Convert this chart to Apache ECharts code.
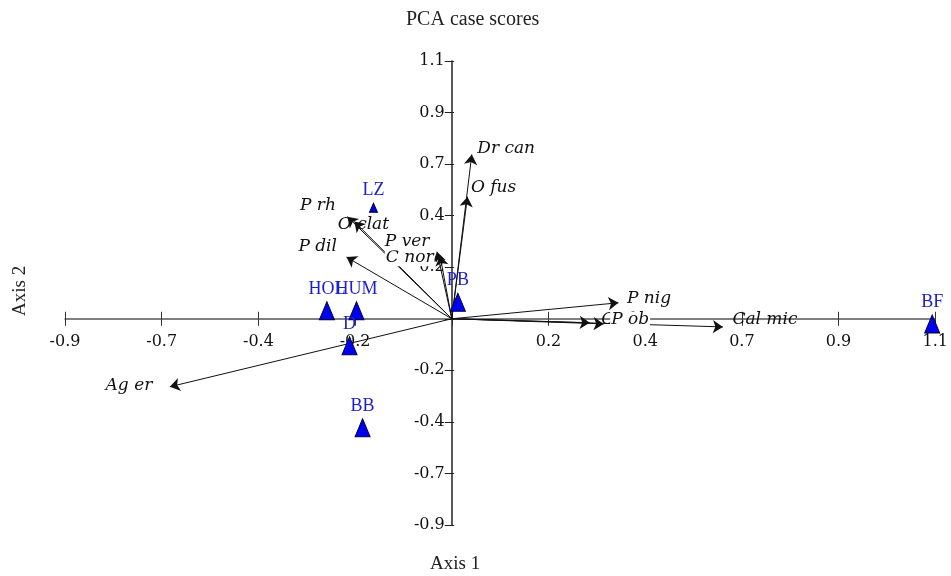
<!DOCTYPE html>
<html>
<head>
<meta charset="utf-8">
<title>PCA case scores</title>
<script src="https://cdn.jsdelivr.net/npm/echarts@6/dist/echarts.min.js"></script>
<style>
  html, body { margin: 0; padding: 0; background: #fff; }
  #chart { width: 951px; height: 576px; }
</style>
</head>
<body>
<div id="chart"></div>
<script>
// tick step of the original plot (labels are rounded to one decimal)
var step = 2 / 9

// case scores (sites)
var siteNames = ['LZ', 'HOL', 'HUM', 'D', 'BB', 'PB', 'BF']
var siteX = [-0.180, -0.287, -0.219, -0.235, -0.205, 0.014, 1.104]
var siteY = [0.479, 0.035, 0.035, -0.116, -0.470, 0.071, -0.022]

// species vectors
var vecNames = ['Dr can', 'O fus', 'P rh', 'O clat', 'P dil', 'C nor', 'P ver', 'P nig', 'C ob', 'P ob', 'Cal mic', 'Ag er']
var vecX = [0.046, 0.036, -0.240, -0.224, -0.242, -0.027, -0.034, 0.383, 0.317, 0.349, 0.623, -0.648]
var vecY = [0.708, 0.526, 0.440, 0.419, 0.266, 0.272, 0.289, 0.069, -0.017, -0.022, -0.035, -0.293]

// where each vector name sits next to its arrow head
var vecLabelPlace = {
  'Dr can': ['right', [0, -6]],
  'O fus': ['right', [-2, -9]],
  'P rh': ['left', [-6, -11]],
  'O clat': ['right', [-22, 3]],
  'P dil': ['left', [-4, -10]],
  'C nor': ['left', [-1, 2]],
  'P ver': ['left', [-2, -10]],
  'P nig': ['right', [3, -4]],
  'C ob': ['right', [6, -3]],
  'P ob': ['right', [2, -4]],
  'Cal mic': ['right', [4, -7]],
  'Ag er': ['left', [-12, -1]]
}
// names drawn on a white box that hides what lies below
var vecLabelOpaque = ['C nor', 'P ver', 'P ob']

var serif = 'Liberation Serif'
var wideSerif = 'DejaVu Serif'
var gridBox = { left: 65, right: 11, top: 61, bottom: 51 }

function tickLabel(v) {
  if (Math.abs(v) < 1e-9) return ''
  return v.toFixed(1)
}

var chart = echarts.init(document.getElementById('chart'))

var axisBase = {
  type: 'value',
  min: -4 * step,
  max: 5 * step,
  interval: step,
  splitLine: { show: false }
}

var option = {
  backgroundColor: '#fff',
  animation: false,
  title: {
    text: 'PCA case scores',
    left: 401,
    top: 5,
    textStyle: { fontFamily: serif, fontSize: 20, fontWeight: 'normal', color: '#222' }
  },
  grid: gridBox,
  xAxis: [
    Object.assign({}, axisBase, {
      position: 'bottom',
      axisLine: { onZero: false, lineStyle: { color: '#555', width: 1.5 } },
      axisTick: { length: 7, lineStyle: { color: '#333' } },
      axisLabel: { formatter: tickLabel, margin: 15, fontFamily: wideSerif, fontSize: 16, color: '#111', showMinLabel: true, showMaxLabel: true }
    }),
    Object.assign({}, axisBase, {
      position: 'top',
      axisLine: { show: false, onZero: false },
      axisTick: { length: 7, lineStyle: { color: '#333' } },
      axisLabel: { show: false }
    })
  ],
  yAxis: [
    Object.assign({}, axisBase, {
      position: 'left',
      axisLine: { onZero: false, lineStyle: { color: '#222', width: 1.5 } },
      axisTick: { length: 7, lineStyle: { color: '#222' } },
      axisLabel: { formatter: tickLabel, margin: 7, fontFamily: wideSerif, fontSize: 16, color: '#111', showMinLabel: true, showMaxLabel: true }
    }),
    Object.assign({}, axisBase, {
      position: 'right',
      axisLine: { show: false, onZero: false },
      axisTick: { length: 7, lineStyle: { color: '#222' } },
      axisLabel: { show: false }
    })
  ],
  graphic: [
    {
      type: 'text',
      left: 430,
      top: 555,
      style: { text: 'Axis 1', fontFamily: serif, fontSize: 19, fill: '#222' }
    },
    {
      type: 'text',
      x: 11,
      y: 316,
      rotation: Math.PI / 2,
      style: { text: 'Axis 2', fontFamily: serif, fontSize: 19, fill: '#222' }
    }
  ],
  series: [
    {
      type: 'lines',
      coordinateSystem: 'cartesian2d',
      xAxisIndex: 0,
      yAxisIndex: 0,
      symbol: ['none', 'arrow'],
      symbolSize: [7, 10],
      lineStyle: { color: '#111', width: 1, opacity: 1, curveness: 0 },
      z: 3,
      data: vecNames.map(function (n, i) {
        return { name: n, coords: [[0, 0], [vecX[i], vecY[i]]] }
      })
    },
    {
      type: 'scatter',
      xAxisIndex: 0,
      yAxisIndex: 0,
      symbolSize: 1,
      itemStyle: { color: 'rgba(0,0,0,0)', opacity: 1 },
      z: 4,
      data: vecNames.map(function (n, i) {
        var p = vecLabelPlace[n]
        var opaque = vecLabelOpaque.indexOf(n) >= 0
        return {
          name: n,
          value: [vecX[i], vecY[i]],
          label: {
            show: true,
            formatter: n,
            position: p[0],
            offset: p[1],
            distance: 4,
            fontFamily: wideSerif,
            fontStyle: 'italic',
            fontSize: 17,
            color: '#111',
            opacity: 1,
            backgroundColor: opaque ? '#fff' : 'transparent',
            padding: [0, 1]
          }
        }
      })
    },
    {
      type: 'scatter',
      xAxisIndex: 0,
      yAxisIndex: 0,
      symbol: 'triangle',
      z: 5,
      itemStyle: { color: '#0000f0', borderColor: '#000040', borderWidth: 1, opacity: 1 },
      label: {
        show: true,
        formatter: '{b}',
        position: 'top',
        distance: 3,
        fontFamily: serif,
        fontSize: 18,
        color: '#2020c8'
      },
      data: siteNames.map(function (n, i) {
        return {
          name: n,
          value: [siteX[i], siteY[i]],
          symbolSize: n === 'LZ' ? [8, 9] : [15, 18]
        }
      })
    }
  ]
}

chart.setOption(option)

// move the axes so that they cross at the origin, labels included
var origin = chart.convertToPixel({ xAxisIndex: 0, yAxisIndex: 0 }, [0, 0])
var gridRight = 951 - gridBox.right
var gridBottom = 576 - gridBox.bottom
chart.setOption({
  xAxis: [
    { offset: -(gridBottom - origin[1]) },
    { offset: -(origin[1] - gridBox.top) }
  ],
  yAxis: [
    { offset: -(origin[0] - gridBox.left) },
    { offset: -(gridRight - origin[0]) }
  ]
})
</script>
</body>
</html>
